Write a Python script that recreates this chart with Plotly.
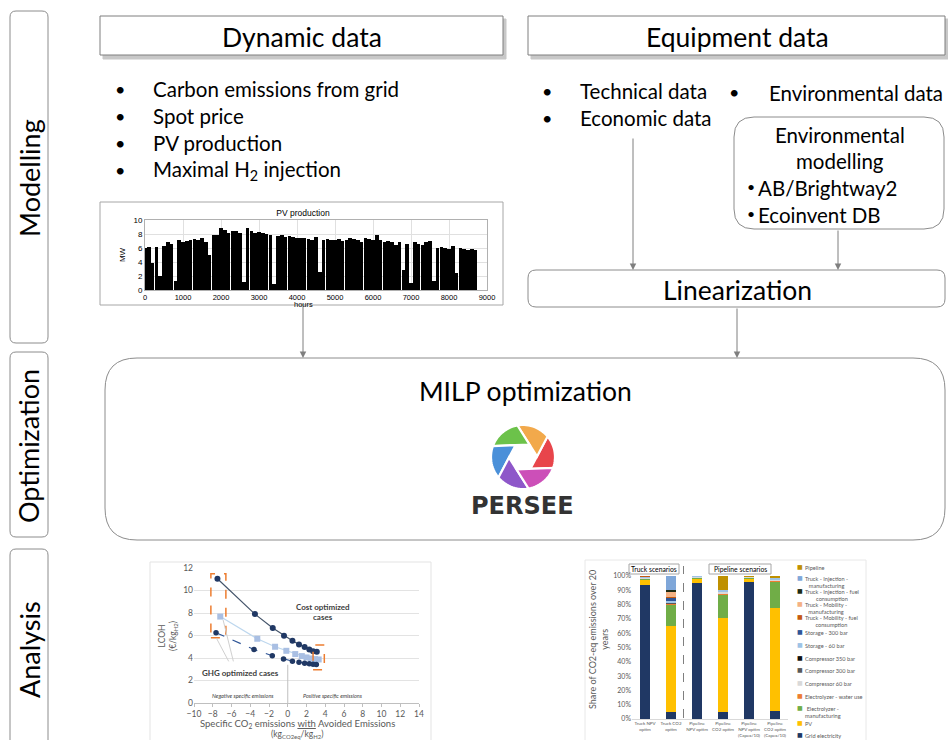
import math
import plotly.graph_objects as go

W, H = 948, 740
FONT = "Lato"
CHART_FONT = "Liberation Sans"

# ---------------- data ----------------
# PV production (MW), envelope read every 100 hours
pv_hours = list(range(0, 8800, 100))
pv_mw = [6.0, 6.1, 3.8, 6.2, 2.0, 6.3, 6.8, 6.6, 1.3, 7.2,
         6.9, 7.0, 7.1, 7.3, 7.2, 7.4, 6.8, 5.0, 7.8, 7.9,
         8.9, 8.6, 8.2, 8.5, 8.4, 8.1, 1.1, 8.8, 8.5, 8.2,
         8.3, 8.1, 8.0, 7.8, 0.8, 7.7, 7.8, 7.6, 7.7, 7.6,
         7.5, 7.4, 7.5, 7.3, 7.2, 7.6, 2.6, 7.1, 7.3, 7.2,
         7.1, 7.3, 7.0, 7.2, 7.4, 7.3, 7.2, 6.8, 7.4, 7.3,
         7.2, 7.8, 7.1, 6.9, 7.0, 6.8, 6.5, 6.9, 2.8, 6.6,
         1.0, 6.9, 6.6, 6.4, 6.8, 7.0, 1.3, 6.0, 6.2, 6.0,
         5.9, 6.3, 2.5, 6.0, 5.9, 5.7, 5.9, 5.7]
pv_xticks = [0, 1000, 2000, 3000, 4000, 5000, 6000, 7000, 8000, 9000]

# LCOH vs specific CO2 emissions
co2_top = [-7.5, -3.5, -1.6, -0.4, 0.5, 1.2, 1.8, 2.3, 2.7, 3.1]
lcoh_top = [11.05, 7.9, 6.67, 5.98, 5.54, 5.21, 4.97, 4.76, 4.61, 4.55]
co2_mid = [-7.2, -3.25, -1.35, -0.15, 0.8, 1.5, 2.0, 2.45, 2.9, 3.3]
lcoh_mid = [7.68, 5.71, 5.0, 4.64, 4.35, 4.17, 4.05, 3.96, 3.9, 3.87]
co2_low = [-7.65, -3.6, -1.65, -0.45, 0.5, 1.2, 1.8, 2.3, 2.7, 3.05]
lcoh_low = [6.25, 4.76, 4.2, 3.9, 3.72, 3.63, 3.54, 3.48, 3.45, 3.42]

# CO2-eq share stacked bars
scenarios = ["Truck NPV<br>optim", "Truck CO2<br>optim", "Pipeline<br>NPV optim",
             "Pipeline<br>CO2 optim", "Pipeline<br>NPV optim<br>(Capex/10)",
             "Pipeline<br>CO2 optim<br>(Capex/10)"]
series_names = ["Grid electricity", "PV", "Electrolyzer -<br>manufacturing",
                "Electrolyzer - water use", "Compressor 60 bar", "Compressor 300 bar",
                "Compressor 350 bar", "Storage - 60 bar", "Storage - 300 bar",
                "Truck - Mobility - fuel<br>consumption", "Truck - Mobility -<br>manufacturing",
                "Truck - Injection - fuel<br>consumption", "Truck - Injection -<br>manufacturing",
                "Pipeline"]
series_values = [
    [94.0, 5.0, 95.0, 5.0, 95.5, 5.5],   # Grid electricity
    [3.5, 60.0, 3.5, 65.5, 3.0, 72.0],   # PV
    [0.8, 15.0, 0.6, 16.5, 0.5, 18.5],   # Electrolyzer manufacturing
    [0.1, 0.5, 0.1, 0.5, 0.1, 0.5],      # Electrolyzer water use
    [0.2, 0.5, 0.2, 1.0, 0.2, 0.8],      # Compressor 60 bar
    [0.1, 0.5, 0.0, 0.0, 0.0, 0.0],      # Compressor 300 bar
    [0.1, 0.3, 0.0, 0.0, 0.0, 0.0],      # Compressor 350 bar
    [0.7, 0.7, 0.6, 1.5, 0.5, 1.5],      # Storage 60 bar
    [0.3, 2.5, 0.0, 0.0, 0.0, 0.0],      # Storage 300 bar
    [0.2, 0.5, 0.0, 0.0, 0.0, 0.0],      # Truck mobility fuel
    [0.0, 3.5, 0.0, 0.0, 0.0, 0.0],      # Truck mobility manufacturing
    [0.0, 1.0, 0.0, 0.0, 0.0, 0.0],      # Truck injection fuel
    [0.0, 10.0, 0.0, 0.0, 0.0, 0.0],     # Truck injection manufacturing
    [0.0, 0.0, 0.0, 10.0, 0.2, 1.2],     # Pipeline
]
series_colors = ["#203864", "#FFC000", "#70AD47", "#ED7D31", "#D9D9D9", "#595959",
                 "#111111", "#9DC3E6", "#2F5597", "#C55A11", "#F4B183", "#1E2B14",
                 "#7FA7D9", "#BF9000"]

# ---------------- helpers ----------------
def px(x):
    return x / W


def py(y):
    return 1 - y / H


shapes = []
annotations = []


def rrect(x0, y0, x1, y1, r, line="#8c8c8c", fill="white", width=1, dash="solid"):
    p = (f"M {px(x0 + r)},{py(y0)} L {px(x1 - r)},{py(y0)} "
         f"Q {px(x1)},{py(y0)} {px(x1)},{py(y0 + r)} L {px(x1)},{py(y1 - r)} "
         f"Q {px(x1)},{py(y1)} {px(x1 - r)},{py(y1)} L {px(x0 + r)},{py(y1)} "
         f"Q {px(x0)},{py(y1)} {px(x0)},{py(y1 - r)} L {px(x0)},{py(y0 + r)} "
         f"Q {px(x0)},{py(y0)} {px(x0 + r)},{py(y0)} Z")
    shapes.append(dict(type="path", xref="paper", yref="paper", path=p,
                       line=dict(color=line, width=width, dash=dash), fillcolor=fill, layer="below"))


def rect(x0, y0, x1, y1, line="#8c8c8c", fill="white", width=1):
    shapes.append(dict(type="rect", xref="paper", yref="paper", x0=px(x0), x1=px(x1),
                       y0=py(y1), y1=py(y0), line=dict(color=line, width=width),
                       fillcolor=fill, layer="below"))


def txt(x, y, s, size, color="#000000", xanchor="center", angle=0, family=FONT, yanchor="middle"):
    annotations.append(dict(x=px(x), y=py(y), xref="paper", yref="paper", text=s,
                            showarrow=False, font=dict(size=size, color=color, family=family),
                            xanchor=xanchor, yanchor=yanchor, textangle=angle, borderpad=0))


def arrow(x, y0, y1):
    annotations.append(dict(x=px(x), y=py(y1), xref="paper", yref="paper", text="",
                            showarrow=True, ax=0, ay=-(y1 - y0), axref="pixel", ayref="pixel",
                            arrowhead=2, arrowsize=1.3, arrowwidth=1, arrowcolor="#7f7f7f"))


# ---------------- left phase boxes ----------------
rrect(10, 11, 48, 343, 6)
rrect(10, 352, 48, 537, 6)
rrect(10, 549, 48, 760, 6)
txt(29, 178, "Modelling", 27, angle=-90)
txt(29, 446, "Optimization", 27, angle=-90)
txt(29, 650, "Analysis", 27, angle=-90)

# ---------------- top header boxes ----------------
rect(103, 19, 506, 59, line="#c8c8c8", fill="#c8c8c8")
rect(100, 16, 503, 55, line="#7f7f7f")
txt(302, 37, "Dynamic data", 26.5)
rect(531, 19, 948, 59, line="#c8c8c8", fill="#c8c8c8")
rect(528, 16, 945, 55, line="#7f7f7f")
txt(737, 37, "Equipment data", 26.5)

# bullets
for yy, s in zip([89, 116, 143, 170],
                 ["Carbon emissions from grid", "Spot price", "PV production",
                  "Maximal H<sub>2</sub> injection"]):
    txt(120, yy, "•", 18, xanchor="center")
    txt(152, yy, s, 20.5, xanchor="left")
for yy, s in zip([91, 118], ["Technical data", "Economic data"]):
    txt(547, yy, "•", 18)
    txt(579, yy, s, 20.5, xanchor="left")
txt(734, 92, "•", 18)
txt(768, 93, "Environmental data", 20.5, xanchor="left")

# environmental modelling box
rrect(734, 117, 944, 229, 20)
txt(840, 135, "Environmental", 20.5)
txt(840, 161, "modelling", 20.5)
txt(751, 187, "•", 14)
txt(757, 188, "AB/Brightway2", 20.5, xanchor="left")
txt(751, 214, "•", 14)
txt(757, 215, "Ecoinvent DB", 20.5, xanchor="left")

# linearization
rrect(528, 270, 945, 307, 8)
txt(737, 290, "Linearization", 26.5)

# arrows
arrow(633, 137, 270)
arrow(838, 229, 270)
arrow(303, 305, 358)
arrow(737, 307, 358)

# PV chart frame
rect(100, 202, 503, 305, line="#a6a6a6")
txt(303, 304.5, "hours", 7.5, family=CHART_FONT)

# MILP box
rrect(105, 358, 945, 540, 32)
txt(525, 391, "MILP optimization", 26.5)

# PERSEE logo (aperture)
cx, cy, R, r = 523, 457, 32, 14
t = -r / 2 + math.sqrt(R * R - 3 * r * r / 4)
alpha = math.degrees(math.atan2(t * math.sin(math.radians(60)), r + t * math.cos(math.radians(60))))
blade_colors = ["#E8454B", "#F2A94B", "#6CC24A", "#4A90D9", "#8E57C9", "#CC4FB8"]
theta0 = -20 - alpha


def pt(X, Y):
    return f"{px(cx + X)},{py(cy - Y)}"


for k in range(6):
    th_k = math.radians(theta0 + 60 * k)
    th_k1 = math.radians(theta0 + 60 * (k + 1))
    Vk = (r * math.cos(th_k), r * math.sin(th_k))
    Vk1 = (r * math.cos(th_k1), r * math.sin(th_k1))
    d = (Vk1[0] - Vk[0], Vk1[1] - Vk[1])
    dn = math.hypot(*d)
    d = (d[0] / dn, d[1] / dn)
    Pk1 = (Vk1[0] + t * d[0], Vk1[1] + t * d[1])
    phi1 = math.atan2(Pk1[1], Pk1[0])
    phi0 = phi1 - math.radians(60)
    pts = [pt(*Vk), pt(*Pk1)]
    for i in range(1, 16):
        a = phi1 - (phi1 - phi0) * i / 15
        pts.append(pt(R * math.cos(a), R * math.sin(a)))
    path = "M " + " L ".join(pts) + " Z"
    shapes.append(dict(type="path", xref="paper", yref="paper", path=path,
                       fillcolor=blade_colors[k], line=dict(color="white", width=2.2), layer="above"))

txt(522, 506, "<b>PERSEE</b>", 24, color="#333333", family="DejaVu Sans")

# ---------------- analysis images frames ----------------
rect(150, 562, 431, 760, line="#e3e3e3")
rect(585, 560, 866, 760, line="#e8e8e8")

# ---------------- traces ----------------
fig = go.Figure()

fig.add_trace(go.Bar(x=pv_hours, y=pv_mw, width=98, marker=dict(color="#000000", line=dict(width=0)),
                     xaxis="x", yaxis="y", showlegend=False, hoverinfo="skip"))

fig.add_trace(go.Scatter(x=co2_top, y=lcoh_top, mode="lines+markers", xaxis="x2", yaxis="y2",
                         line=dict(color="#44546A", width=1.2),
                         marker=dict(color="#203864", size=6, symbol="circle"), showlegend=False))
fig.add_trace(go.Scatter(x=co2_mid, y=lcoh_mid, mode="lines+markers", xaxis="x2", yaxis="y2",
                         line=dict(color="#BDD7EE", width=1.2),
                         marker=dict(color="#A9BFE3", size=6, symbol="square"), showlegend=False))
fig.add_trace(go.Scatter(x=co2_low, y=lcoh_low, mode="lines+markers", xaxis="x2", yaxis="y2",
                         line=dict(color="#2F5597", width=1.2, dash="dash"),
                         marker=dict(color="#203864", size=5.5, symbol="circle"), showlegend=False))

for name, vals, col in zip(series_names, series_values, series_colors):
    fig.add_trace(go.Bar(x=scenarios, y=vals, name=name, width=0.36, marker=dict(color=col, line=dict(width=0)),
                         xaxis="x3", yaxis="y3", showlegend=False))

# LCOH annotations
shapes.append(dict(type="rect", xref="x2", yref="y2", x0=-8.2, x1=-6.6, y0=5.8, y1=11.5,
                   line=dict(color="#ED7D31", width=1.5, dash="dash")))
shapes.append(dict(type="rect", xref="x2", yref="y2", x0=2.7, x1=3.9, y0=2.95, y1=5.15,
                   line=dict(color="#ED7D31", width=1.5, dash="dash")))
shapes.append(dict(type="line", xref="x2", yref="y2", x0=-7.6, y0=5.75, x1=-6.3, y1=3.7,
                   line=dict(color="#d0d0d0", width=1)))
shapes.append(dict(type="line", xref="x2", yref="y2", x0=-6.9, y0=7.4, x1=-5.8, y1=3.7,
                   line=dict(color="#d0d0d0", width=1)))
shapes.append(dict(type="line", xref="x2", yref="y2", x0=0, y0=0, x1=0, y1=3.4,
                   line=dict(color="#bfbfbf", width=1)))
txt(323, 607, "<b>Cost optimized</b>", 8, color="#404040", family=FONT)
txt(323, 617, "<b>cases</b>", 8, color="#404040", family=FONT)
txt(240, 673, "<b>GHG optimized cases</b>", 8, color="#404040", family=FONT)
txt(243, 696, "<i>Negative specific emissions</i>", 5.5, color="#404040", family=FONT)
txt(333, 696, "<i>Positive specific emissions</i>", 5.5, color="#404040", family=FONT)
txt(168, 636, "LCOH<br>(€/kg<sub>H2</sub>)", 8.5, color="#595959", angle=-90, family=FONT)
txt(297, 724, "Specific CO<sub>2</sub> emissions <u>with</u> Avoided Emissions", 9.5,
    color="#595959", family=FONT)
txt(297, 734.5, "(kg<sub>CO2eq</sub>/kg<sub>H2</sub>)", 8.5, color="#595959", family=FONT)

# bar chart annotations
rect(629, 564, 679, 574, line="#a6a6a6")
txt(654, 569, "Truck scenarios", 6.8, color="#000000", family=FONT)
rect(709, 564, 771, 574, line="#a6a6a6")
txt(740, 569, "Pipeline scenarios", 6.8, color="#000000", family=FONT)
shapes.append(dict(type="line", xref="paper", yref="paper", x0=px(683.5), x1=px(683.5),
                   y0=py(718), y1=py(566), line=dict(color="#7f7f7f", width=1, dash="dash")))
txt(598, 640, "Share of CO2-eq emissions over 20<br>years", 9, color="#595959", angle=-90, family=FONT)

legend_y = [734, 722, 707, 695, 682, 669, 657, 644, 631, 616, 603, 590, 577, 566]
for name, col, yy in zip(series_names, series_colors, legend_y):
    txt(800, yy, "■", 6, color=col, family="DejaVu Sans")
    txt(804, yy - 3, name, 5.6, color="#595959", xanchor="left", family=FONT, yanchor="top")

# ---------------- layout ----------------
axis_font = dict(size=8, color="#000000", family=CHART_FONT)
fig.update_layout(
    width=W, height=H, margin=dict(l=0, r=0, t=0, b=0, pad=0, autoexpand=False),
    paper_bgcolor="white", plot_bgcolor="white",
    barmode="stack", showlegend=False,
    shapes=shapes, annotations=annotations,
    xaxis=dict(domain=[px(145), px(487)], range=[0, 9000], anchor="y", tickvals=pv_xticks,
               tickfont=dict(size=7.5, color="#000000", family=CHART_FONT),
               showgrid=True, gridcolor="#e0e0e0", gridwidth=1,
               showline=True, linecolor="#b0b0b0", mirror=True, zeroline=False, ticks="",
               automargin=False),
    yaxis=dict(domain=[py(290), py(220)], range=[0, 10], anchor="x", dtick=2,
               tickfont=axis_font, showgrid=True, gridcolor="#e0e0e0",
               showline=True, linecolor="#b0b0b0", mirror=True, zeroline=False,
               automargin=False, title=dict(text="MW", font=axis_font, standoff=6)),
    xaxis2=dict(domain=[px(194), px(419)], range=[-10, 14], anchor="y2", dtick=2,
                tickfont=dict(size=8.5, color="#595959", family=FONT), showgrid=False,
                showline=True, linecolor="#bfbfbf", zeroline=False, ticks="outside",
                ticklen=3, tickcolor="#bfbfbf", automargin=False),
    yaxis2=dict(domain=[py(703), py(568)], range=[0, 12], anchor="x2", dtick=2,
                tickfont=dict(size=8.5, color="#595959", family=FONT), showgrid=True,
                gridcolor="#e3e3e3", zeroline=False, showline=False, automargin=False),
    xaxis3=dict(domain=[px(632), px(788)], range=[-0.5, 5.5], anchor="y3", type="category",
                tickfont=dict(size=4.5, color="#595959", family=FONT), showline=True,
                linecolor="#d9d9d9", ticks="", automargin=False),
    yaxis3=dict(domain=[py(719), py(576)], range=[0, 100], anchor="x3", dtick=10,
                ticksuffix="%", tickfont=dict(size=7, color="#595959", family=FONT),
                showgrid=False, zeroline=False, automargin=False),
    title=dict(text="PV production", x=px(303), y=py(213), xanchor="center", yanchor="middle",
               automargin=False, font=dict(size=8.5, color="#000000", family=CHART_FONT)),
)

post = ("document.documentElement.style.margin='0px';document.body.style.margin='0px';"
        "document.body.style.padding='0px';document.documentElement.style.overflow='hidden';"
        "var g=document.getElementById('{plot_id}');g.style.position='fixed';"
        "g.style.left='0px';g.style.top='0px';")
fig.write_html("out.html", config={"displayModeBar": False}, post_script=post)
